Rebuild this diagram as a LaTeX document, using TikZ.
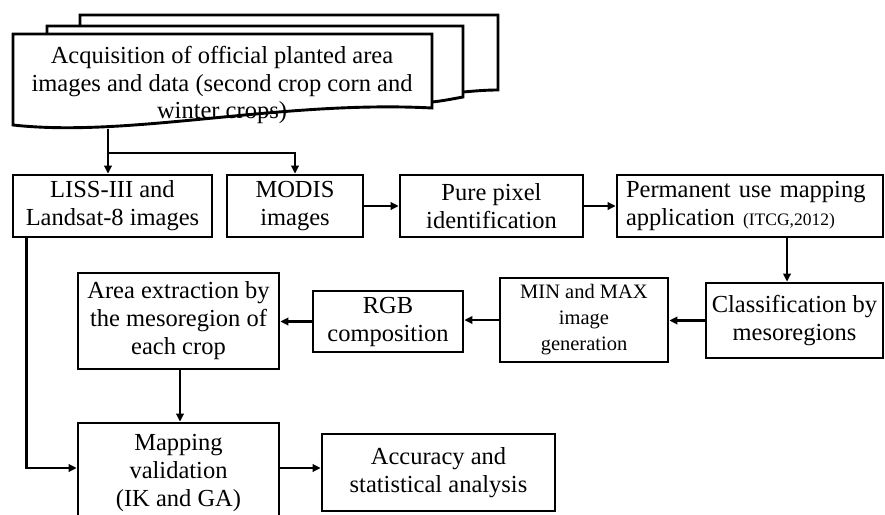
\documentclass[tikz,border=0pt]{standalone}
\usepackage{fontspec}
\setmainfont{Liberation Serif}
\usetikzlibrary{arrows.meta,calc}
\tikzset{
  box/.style={draw=black, line width=2.7pt, fill=white, align=center, inner sep=2pt,
    font=\fontsize{24.5}{28}\selectfont},
  arr/.style={draw=black, line width=2.4pt, -{Triangle[length=8pt,width=7.5pt]}},
  ln/.style={draw=black, line width=2.4pt},
  docline/.style={draw=black, line width=2.9pt, line join=miter},
}
\begin{document}
\begin{tikzpicture}[x=1pt,y=-1pt]
\useasboundingbox (0,0) rectangle (885,514);
\clip (0,0) rectangle (885,514);
\fill[white] (0,0) rectangle (885,514);
% multi-document shape
\draw[docline, fill=white] (80,26) -- (80,15) -- (498,15) -- (498,90) .. controls (485,90) and (475,91) .. (463,92);
\draw[docline, fill=white] (47,34) -- (47,26) -- (463,26) -- (463,97) .. controls (452,99) and (442,101) .. (432,102);
\draw[docline, fill=white] (13,34) -- (432,34) -- (432,108) .. controls (280,100) and (130,138) .. (13,125) -- cycle;
\node[font=\fontsize{24.5}{27.5}\selectfont, align=center] (doc) at (222,85)
  {Acquisition of official planted area\\images and data (second crop corn and\\winter crops)};
\coordinate (docb) at (108,128.5);
\coordinate (split) at (108,153);
% row 1
\node[box, minimum width=199pt, minimum height=62pt] (liss) at (112.5,206) {LISS-III and\\Landsat-8 images};
\node[box, minimum width=136pt, minimum height=62pt] (modis) at (295,206) {MODIS\\images};
\node[box, minimum width=183pt, minimum height=62pt] (pure) at (491.5,206) {Pure pixel\\identification};
\node[box, minimum width=266pt, minimum height=62pt, text width=248pt, align=left, inner xsep=9pt, inner ysep=2pt] (perm) at (750,206)
  {Permanent use mapping\\application {\fontsize{17.5}{20}\selectfont(ITCG,2012)}};
% row 2
\node[box, minimum width=177pt, minimum height=75pt] (cls) at (794.5,320.5) {Classification by\\mesoregions};
\node[box, minimum width=168pt, minimum height=84pt, font=\fontsize{20.5}{26}\selectfont] (mm) at (584,320) {MIN and MAX\\image\\generation};
\node[box, minimum width=150pt, minimum height=61pt] (rgb) at (388,321.5) {RGB\\composition};
\node[box, minimum width=201pt, minimum height=96pt] (area) at (178.5,321) {Area extraction by\\the mesoregion of\\each crop};
% row 3
\node[box, minimum width=201pt, minimum height=100pt] (mapv) at (178.5,473) {Mapping\\validation\\(IK and GA)};
\node[box, minimum width=233pt, minimum height=77pt] (acc) at (438.5,472.5) {Accuracy and\\statistical analysis};
% connectors
\draw[ln] (docb) -- (split);
\draw[arr] (split) -- (liss.north -| split);
\draw[arr] (split) -| (modis.north);
\draw[arr] (modis.east) -- (pure.west);
\draw[arr] (pure.east) -- (perm.west);
\draw[arr] ([xshift=37pt]perm.south) -- ([xshift=37pt]perm.south |- cls.north);
\draw[arr] (cls.west) -- (cls.west -| mm.east);
\draw[arr] (mm.west) -- (mm.west -| rgb.east);
\draw[arr] (rgb.west) -- (rgb.west -| area.east);
\draw[arr] ([xshift=1.5pt]area.south) -- ([xshift=1.5pt]area.south |- mapv.north);
\draw[arr] ([xshift=15pt]liss.south west) |- ([yshift=5pt]mapv.west);
\draw[arr] ([yshift=5pt]mapv.east) -- ([yshift=5pt]mapv.east -| acc.west);
\end{tikzpicture}
\end{document}
